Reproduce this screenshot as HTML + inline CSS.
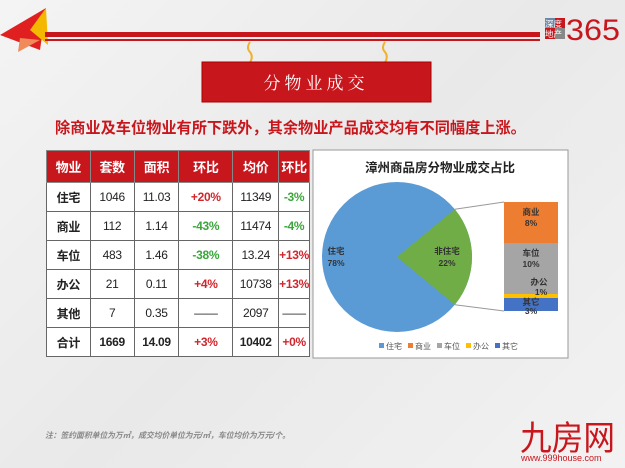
<!DOCTYPE html>
<html><head><meta charset="utf-8"><style>
body{margin:0;width:625px;height:468px;overflow:hidden;background:linear-gradient(135deg,#f4f4f4,#e9e9e9 50%,#f2f2f2);font-family:"Liberation Sans","Noto Sans CJK SC",sans-serif;position:relative}
.a{position:absolute}
table{border-collapse:collapse;position:absolute;left:46px;top:150px;width:264px;background:#fff}
td{border:1px solid #666;text-align:center;font-size:12px;height:28px;padding:0;color:#222;letter-spacing:-0.3px}
tr.h td{background:#c8161d;color:#fff;font-weight:bold;font-size:13px;height:31px;border-color:#888}
td.f{font-weight:bold}
.r{color:#d0262c;font-weight:bold}.g{color:#3aa63a;font-weight:bold}
</style></head><body>
<svg class="a" style="left:0;top:0" width="625" height="110">
<polygon points="0,35 46,8 40,50" fill="#e02020"/>
<polygon points="30,30 46,8 48,45" fill="#f5b800"/>
<polygon points="20,38 40,40 18,52" fill="#f08a5a"/>
<rect x="45" y="32" width="495" height="5" fill="#c8161d"/><rect x="45" y="39" width="495" height="2" fill="#c8161d"/>
<path d="M250 42 q-4 6 0 10 q4 5 -1 12 M385 42 q-4 6 0 10 q4 5 -1 12" stroke="#f0b030" stroke-width="2" fill="none"/>
<rect x="202" y="62" width="229" height="40" fill="#c8161d" stroke="#a00" />
<text x="316" y="89" text-anchor="middle" fill="#fff" font-size="17" font-family="Noto Serif CJK SC,serif" letter-spacing="4">分物业成交</text>
<rect x="545" y="18" width="10" height="10" fill="#6a87a8"/><rect x="555" y="18" width="10" height="10" fill="#c8161d"/>
<rect x="545" y="28" width="10" height="11" fill="#c8161d"/><rect x="555" y="28" width="10" height="11" fill="#888"/>
<text x="545" y="27" font-size="8.5" fill="#fff">深度</text><text x="545" y="37" font-size="8.5" fill="#fff">地产</text>
<text x="566" y="40" font-size="30" fill="#c8161d" textLength="54" lengthAdjust="spacingAndGlyphs">365</text>
</svg>
<div class="a" style="left:55px;top:116px;font-size:15.2px;font-weight:bold;color:#c8161d;white-space:nowrap">除商业及车位物业有所下跌外，其余物业产品成交均有不同幅度上涨。</div>
<table>
<tr class="h"><td style="width:43px">物业</td><td style="width:43px">套数</td><td style="width:44px">面积</td><td style="width:53px">环比</td><td style="width:45px">均价</td><td>环比</td></tr>
<tr><td class="f">住宅</td><td>1046</td><td>11.03</td><td class="r">+20%</td><td>11349</td><td class="g">-3%</td></tr>
<tr><td class="f">商业</td><td>112</td><td>1.14</td><td class="g">-43%</td><td>11474</td><td class="g">-4%</td></tr>
<tr><td class="f">车位</td><td>483</td><td>1.46</td><td class="g">-38%</td><td>13.24</td><td class="r">+13%</td></tr>
<tr><td class="f">办公</td><td>21</td><td>0.11</td><td class="r">+4%</td><td>10738</td><td class="r">+13%</td></tr>
<tr><td class="f">其他</td><td>7</td><td>0.35</td><td>——</td><td>2097</td><td>——</td></tr>
<tr><td class="f">合计</td><td class="f">1669</td><td class="f">14.09</td><td class="r">+3%</td><td class="f">10402</td><td class="r">+0%</td></tr>
</table>
<svg class="a" style="left:0;top:0" width="625" height="468">
<rect x="313" y="150" width="255" height="208" fill="#fff" stroke="#999"/>
<text x="440" y="172" text-anchor="middle" font-size="12.5" font-weight="bold" fill="#222">漳州商品房分物业成交占比</text>
<circle cx="397" cy="257" r="75" fill="#5b9bd5"/>
<path d="M397 257 L454.8 209.2 A75 75 0 0 1 454.8 304.8 Z" fill="#70ad47"/>
<line x1="454.8" y1="209.2" x2="504" y2="202" stroke="#999"/><line x1="454.8" y1="304.8" x2="504" y2="311" stroke="#999"/>
<rect x="504" y="202" width="54" height="41" fill="#ed7d31"/>
<rect x="504" y="243" width="54" height="51" fill="#a5a5a5"/>
<rect x="504" y="294" width="54" height="4" fill="#ffc000"/>
<rect x="504" y="298" width="54" height="13" fill="#4472c4"/>
<g font-size="8.5" font-weight="bold" fill="#333" text-anchor="middle">
<text x="336" y="254">住宅</text><text x="336" y="266">78%</text>
<text x="447" y="254">非住宅</text><text x="447" y="266">22%</text>
<text x="531" y="215">商业</text><text x="531" y="226">8%</text>
<text x="531" y="256">车位</text><text x="531" y="267">10%</text>
<text x="539" y="285">办公</text><text x="541" y="295">1%</text>
<text x="531" y="305">其它</text><text x="531" y="314">3%</text>
</g>
<g font-size="8" fill="#555">
<rect x="379" y="343" width="5" height="5" fill="#5b9bd5"/><text x="386" y="349">住宅</text>
<rect x="408" y="343" width="5" height="5" fill="#ed7d31"/><text x="415" y="349">商业</text>
<rect x="437" y="343" width="5" height="5" fill="#a5a5a5"/><text x="444" y="349">车位</text>
<rect x="466" y="343" width="5" height="5" fill="#ffc000"/><text x="473" y="349">办公</text>
<rect x="495" y="343" width="5" height="5" fill="#4472c4"/><text x="502" y="349">其它</text>
</g>
<text x="45" y="438" font-size="8" font-style="italic" font-weight="bold" fill="#888" textLength="245" lengthAdjust="spacingAndGlyphs">注：签约面积单位为万㎡，成交均价单位为元/㎡，车位均价为万元/个。</text>
<text x="520" y="450" font-size="34" fill="#c8161d" textLength="95" lengthAdjust="spacingAndGlyphs">九房网</text>
<text x="521" y="461" font-size="9" fill="#c8161d">www.999house.com</text>
</svg>
</body></html>
